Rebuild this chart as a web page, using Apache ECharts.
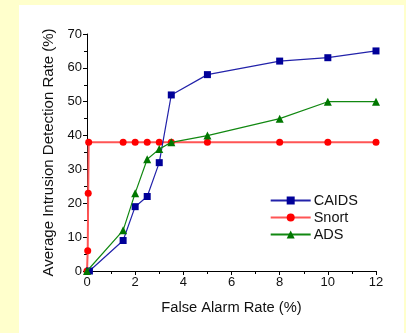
<!DOCTYPE html>
<html><head><meta charset="utf-8">
<script src="https://cdn.jsdelivr.net/npm/echarts@6/dist/echarts.min.js"></script>
<style>
html,body{margin:0;padding:0;background:#FFFFCC;width:406px;height:333px;overflow:hidden}
#panel{position:absolute;left:19px;top:5px;width:385px;height:328px;background:#fff}
#c{position:absolute;left:0;top:0;width:406px;height:333px}
</style></head><body>
<div id="panel"></div><div id="c"></div>
<script>
const caidsX = [0.1, 1.5, 2, 2.5, 3, 3.5, 5, 8, 10, 12];
const caidsY = [0, 9, 19, 22, 32, 52, 58, 62, 63, 65];
const snortX = [0, 0.03, 0.05, 0.07, 1.5, 2, 2.5, 3, 3.5, 5, 8, 10, 12];
const snortY = [0, 6, 23, 38, 38, 38, 38, 38, 38, 38, 38, 38, 38];
const adsX = [0, 1.5, 2, 2.5, 3, 3.5, 5, 8, 10, 12];
const adsY = [0, 12, 23, 33, 36, 38, 40, 45, 50, 50];
const zip = (a, b) => a.map((v, i) => [v, b[i]]);
const font = 'Liberation Sans, Arial, sans-serif';
const chart = echarts.init(document.getElementById('c'));
chart.setOption({
  animation: false,
  backgroundColor: 'transparent',
  grid: {left: 87, right: 30, top: 34, bottom: 62},
  legend: {
    right: 43, top: 188, orient: 'vertical', itemGap: 2, itemWidth: 40, itemHeight: 10,
    textStyle: {fontFamily: font, fontSize: 14.5, color: '#111', padding: [0,0,0,-2]},
    data: ['CAIDS', 'Snort', 'ADS']
  },
  xAxis: {
    type: 'value', min: 0, max: 12, interval: 2,
    name: 'False Alarm Rate (%)', nameLocation: 'middle', nameGap: 29,
    nameTextStyle: {fontFamily: font, fontSize: 14.7, color: '#111'},
    axisLine: {lineStyle: {color: '#000', width: 1}},
    axisTick: {length: 4, lineStyle: {color: '#000'}},
    minorTick: {show: true, splitNumber: 2, length: 3, lineStyle: {color: '#000'}},
    axisLabel: {fontFamily: font, fontSize: 13, color: '#111', margin: 5},
    splitLine: {show: false}
  },
  yAxis: {
    type: 'value', min: 0, max: 70, interval: 10,
    name: 'Average Intrusion Detection Rate (%)', nameLocation: 'middle', nameGap: 30,
    nameTextStyle: {fontFamily: font, fontSize: 15, color: '#111'},
    axisLine: {show: true, lineStyle: {color: '#000', width: 1}},
    axisTick: {show: true, length: 4, lineStyle: {color: '#000'}},
    minorTick: {show: true, splitNumber: 2, length: 3, lineStyle: {color: '#000'}},
    axisLabel: {fontFamily: font, fontSize: 13, color: '#111', margin: 5},
    splitLine: {show: false}
  },
  series: [
    {name: 'CAIDS', type: 'line', data: zip(caidsX, caidsY), symbol: 'rect', symbolSize: 7,
     lineStyle: {color: '#2222aa', width: 1.2}, itemStyle: {color: '#000099'}, z: 3},
    {name: 'Snort', type: 'line', data: zip(snortX, snortY), symbol: 'circle', symbolSize: 7,
     lineStyle: {color: '#ff5555', width: 2}, itemStyle: {color: '#ff0000'}, z: 2},
    {name: 'ADS', type: 'line', data: zip(adsX, adsY), symbol: 'triangle', symbolSize: 8,
     lineStyle: {color: '#118811', width: 1.2}, itemStyle: {color: '#007700'}, z: 4}
  ]
});
</script></body></html>
